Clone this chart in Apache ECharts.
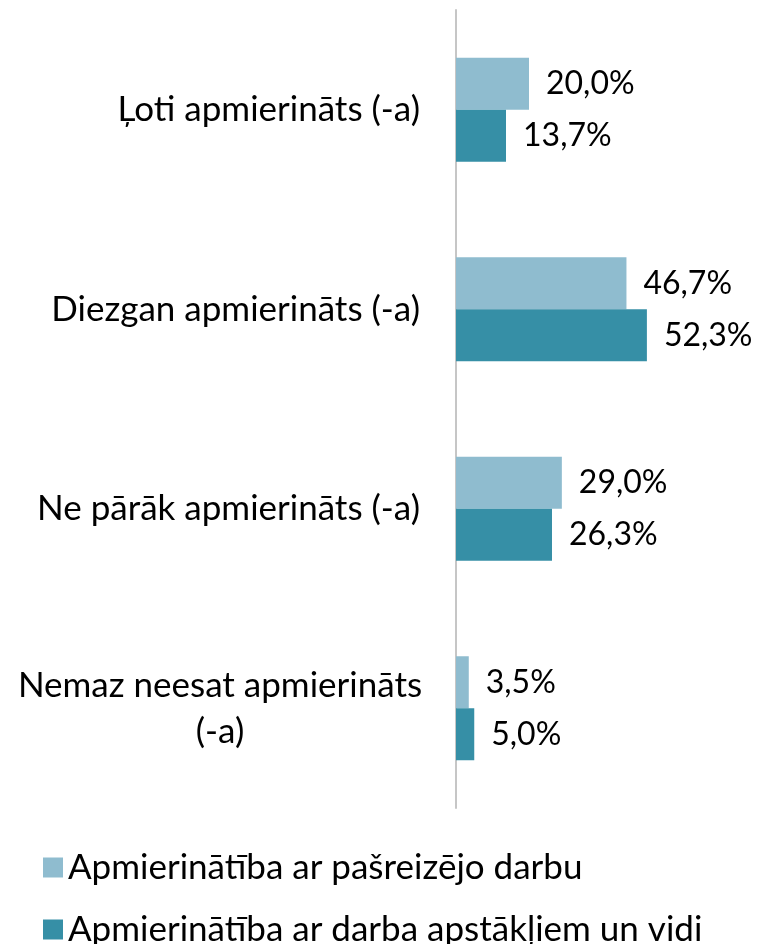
<!DOCTYPE html>
<html>
<head>
<meta charset="utf-8">
<script src="https://cdn.jsdelivr.net/npm/echarts@6/dist/echarts.min.js"></script>
<style>
  html, body { margin: 0; padding: 0; background: #fff; }
  #chart { width: 761px; height: 944px; }
</style>
</head>
<body>
<div id="chart"></div>
<script>
// kategorijas (no augšas uz leju)
var categories = [
  'Ļoti apmierināts (-a)',
  'Diezgan apmierināts (-a)',
  'Ne pārāk apmierināts (-a)',
  'Nemaz neesat apmierināts\n(-a)'
]
var seriesNames = [
  'Apmierinātība ar pašreizējo darbu',
  'Apmierinātība ar darba apstākļiem un vidi'
]
var darbs = [20.0, 46.7, 29.0, 3.5]
var vide = [13.7, 52.3, 26.3, 5.0]

var fontFam = 'Lato'
var chart = echarts.init(document.getElementById('chart'))

function fmtPct(p) {
  return p.value.toFixed(1).replace('.', ',') + '%'
}

// divas leģendas, lai nepārlūztu kolonnās
function legendItem(name, top) {
  return {
    orient: 'vertical',
    left: 43,
    top: top,
    padding: 0,
    itemWidth: 20,
    itemHeight: 20,
    icon: 'rect',
    textStyle: {
      fontSize: 35,
      color: '#000',
      fontFamily: fontFam,
    },
    data: [name],
  }
}

var option = {
  animation: false,
  textStyle: { fontFamily: fontFam },
  grid: {
    left: 456,
    top: 10,
    bottom: 136,
    right: 13,
  },
  legend: [legendItem(seriesNames[0], 850), legendItem(seriesNames[1], 912)],
  xAxis: {
    type: 'value',
    min: 0,
    max: 80,
    show: false,
    splitLine: { show: false },
  },
  yAxis: {
    type: 'category',
    inverse: true,
    data: categories,
    axisTick: { show: false },
    axisLine: {
      show: true,
      lineStyle: { color: '#C6C6C6', width: 2 },
    },
    axisLabel: {
      margin: 36,
      fontSize: 35,
      color: '#000',
      fontFamily: fontFam,
      // divrindu nosaukumam rindas centrē kā Excel
      formatter: function (v) {
        if (v.indexOf('\n') < 0) return v
        return v.split('\n').map(function (s) { return '{c|' + s + '}' }).join('\n')
      },
      rich: {
        c: {
          width: 400,
          align: 'center',
          fontSize: 35,
          lineHeight: 46,
          color: '#000',
          fontFamily: fontFam,
        },
      },
    },
  },
  series: [
    {
      name: seriesNames[0],
      type: 'bar',
      data: darbs,
      barWidth: 52,
      barGap: '0%',
      itemStyle: { color: '#8FBCCF' },
      label: {
        show: true,
        position: 'right',
        distance: 17,
        fontSize: 32,
        color: '#000',
        fontFamily: fontFam,
        formatter: fmtPct,
      },
    },
    {
      name: seriesNames[1],
      type: 'bar',
      data: vide,
      barWidth: 52,
      barGap: '0%',
      itemStyle: { color: '#368FA6' },
      label: {
        show: true,
        position: 'right',
        distance: 17,
        fontSize: 32,
        color: '#000',
        fontFamily: fontFam,
        formatter: fmtPct,
      },
    },
  ],
}

chart.setOption(option)
window.addEventListener('resize', function () {
  chart.resize()
})
</script>
</body>
</html>
